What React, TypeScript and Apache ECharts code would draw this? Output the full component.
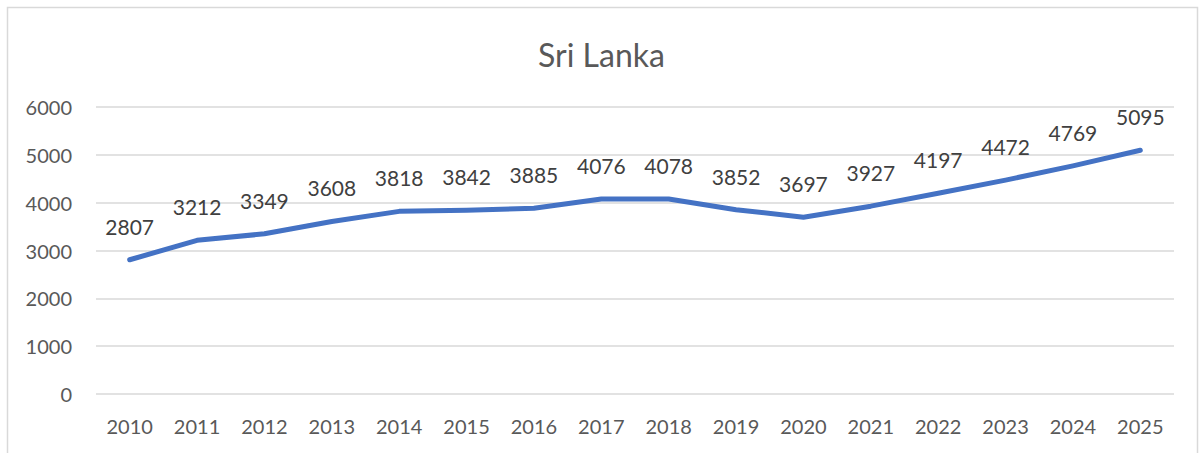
import React, { useEffect, useRef } from "react";
import * as echarts from "echarts";

const categories = ["2010","2011","2012","2013","2014","2015","2016","2017","2018","2019","2020","2021","2022","2023","2024","2025"];
const values = [2807,3212,3349,3608,3818,3842,3885,4076,4078,3852,3697,3927,4197,4472,4769,5095];
const titleText = "Sri Lanka";

const FONT = "Lato, 'Open Sans', sans-serif";

export default function App() {
  const ref = useRef<HTMLDivElement>(null);
  useEffect(() => {
    if (!ref.current) return;
    const chart = echarts.init(ref.current, undefined, { renderer: "svg" });
    chart.setOption({
      animation: false,
      backgroundColor: "#ffffff",
      title: {
        text: titleText,
        left: "center",
        top: 33,
        textStyle: { fontFamily: FONT, fontSize: 32, fontWeight: "normal", color: "#595959" },
      },
      graphic: [
        {
          type: "rect",
          shape: { x: 7.5, y: 7.5, width: 1190, height: 470 },
          style: { fill: "none", stroke: "#d9d9d9", lineWidth: 1.5 },
          silent: true,
        },
      ],
      grid: { left: 96, right: 29, top: 107, bottom: 59 },
      xAxis: {
        type: "category",
        data: categories,
        boundaryGap: true,
        axisLine: { show: false },
        axisTick: { show: false },
        axisLabel: { fontFamily: FONT, fontSize: 20, color: "#595959", margin: 22 },
      },
      yAxis: {
        type: "value",
        min: 0,
        max: 6000,
        interval: 1000,
        axisLine: { show: false },
        axisTick: { show: false },
        splitLine: { lineStyle: { color: "#d9d9d9", width: 1.5 } },
        axisLabel: { fontFamily: FONT, fontSize: 20, color: "#595959", margin: 24, formatter: (v: number) => String(v) },
      },
      series: [
        {
          type: "line",
          data: values,
          showSymbol: true,
          showAllSymbol: true,
          symbol: "circle",
          symbolSize: 2,
          itemStyle: { color: "rgba(68,114,196,0)", borderWidth: 0 },
          lineStyle: { color: "#4472C4", width: 5, cap: "round", join: "round" },
          label: {
            show: true,
            position: "top",
            distance: 22,
            fontFamily: FONT,
            fontSize: 21,
            color: "#404040",
          },
        },
      ],
    });
    return () => chart.dispose();
  }, []);
  return (
    <div
      ref={ref}
      style={{ position: "fixed", left: 0, top: 0, width: 1203, height: 453 }}
    />
  );
}
